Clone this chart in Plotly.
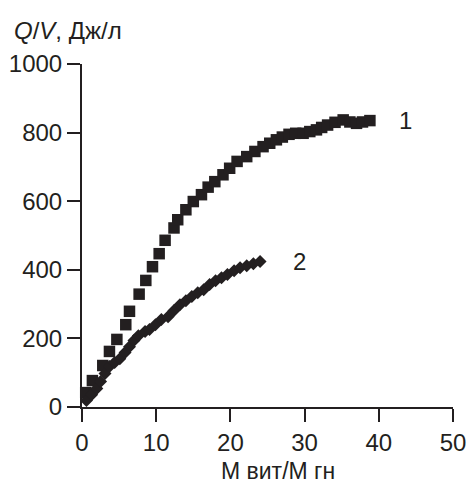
import plotly.graph_objects as go

# Series 1 (squares): heat per volume vs. coil turns ratio
x1 = [0.5, 1.4, 2.8, 3.7, 4.7, 5.9, 6.4, 7.7, 8.6, 9.5, 10.4, 11.2, 12.4, 12.9,
      14.0, 15.0, 16.1, 17.0, 17.9, 19.0, 19.9, 20.9, 22.2, 23.3, 24.4, 25.3,
      26.2, 27.0, 27.9, 28.8, 29.8, 30.7, 31.6, 32.3, 33.1, 34.1, 35.2, 36.1,
      37.0, 37.8, 38.8]
y1 = [42, 77, 121, 162, 197, 240, 279, 329, 369, 409, 447, 486, 522, 546,
      575, 599, 619, 641, 657, 677, 696, 716, 730, 745, 759, 769,
      779, 787, 795, 798, 798, 803, 808, 815, 822, 830, 837, 831,
      827, 831, 835]

# Series 2 (diamonds)
x2 = [0.6, 1.3, 2.0, 2.5, 3.1, 3.7, 4.4, 5.1, 5.8, 6.4, 7.0, 7.6, 8.5, 9.1,
      9.9, 10.7, 11.6, 12.4, 13.2, 14.0, 14.8, 15.6, 16.4, 17.2, 18.0, 18.8,
      19.6, 20.5, 21.3, 22.2, 23.1, 24.0]
y2 = [19, 36, 54, 74, 98, 118, 130, 141, 159, 176, 194, 208, 220, 226,
      240, 255, 263, 281, 298, 310, 322, 333, 342, 357, 368, 377,
      386, 397, 406, 412, 418, 424]

x_ticks = [0, 10, 20, 30, 40, 50]
y_ticks = [0, 200, 400, 600, 800, 1000]

ink = "#231f20"
font_family = "Arial, 'Liberation Sans', sans-serif"

fig = go.Figure()
fig.add_trace(go.Scatter(
    x=x1, y=y1, mode="markers", cliponaxis=False,
    marker=dict(symbol="square", size=11.5, color=ink, line=dict(width=0)),
))
fig.add_trace(go.Scatter(
    x=x2, y=y2, mode="markers", cliponaxis=False,
    marker=dict(symbol="diamond", size=10, color=ink, line=dict(width=0)),
))

axis_common = dict(
    showgrid=False, zeroline=False, showline=True, linecolor=ink, linewidth=2,
    ticks="outside", ticklen=13, tickwidth=2, tickcolor=ink,
    tickfont=dict(family=font_family, size=24, color=ink),
    tickmode="array", automargin=False,
)
fig.update_xaxes(range=[0, 50], tickvals=x_ticks, **axis_common)
fig.update_yaxes(range=[0, 1000], tickvals=y_ticks, **axis_common)

annotations = [
    dict(text="М вит/М гн", xref="paper", yref="paper", x=0.527, y=-0.186,
         xanchor="center", yanchor="middle", showarrow=False, size=23),
    dict(text="<i>Q</i>/<i>V</i>, Дж/л", xref="paper", yref="paper", x=-0.19, y=1.099,
         xanchor="left", yanchor="middle", showarrow=False, size=24),
    dict(text="1", xref="x", yref="y", x=43.6, y=834,
         xanchor="center", yanchor="middle", showarrow=False, size=24),
    dict(text="2", xref="x", yref="y", x=29.3, y=424,
         xanchor="center", yanchor="middle", showarrow=False, size=24),
]
for a in annotations:
    a["font"] = dict(family=font_family, size=a.pop("size"), color=ink)

fig.update_layout(
    width=469, height=484,
    margin=dict(l=82, r=16, t=64, b=76.5, pad=0),
    paper_bgcolor="white", plot_bgcolor="white",
    showlegend=False,
    annotations=annotations,
)

fig.write_html("out.html")
